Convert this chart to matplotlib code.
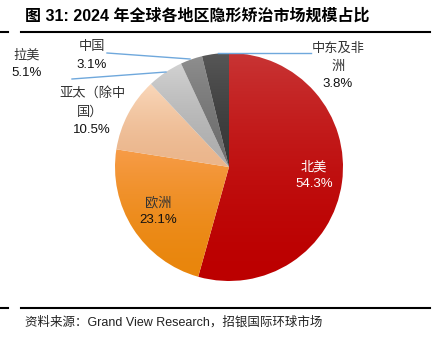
import numpy as np
import matplotlib
matplotlib.use("Agg")
import matplotlib.pyplot as plt
from matplotlib.colors import LinearSegmentedColormap

plt.rcParams["font.family"] = ["Liberation Sans", "Noto Sans CJK SC", "DejaVu Sans"]

# === Dados ===
regioes = ["北美", "欧洲", "亚太（除中\n国）", "拉美", "中国", "中东及非\n洲"]
valores = [54.3, 23.1, 10.5, 5.1, 3.1, 3.8]
cores_topo = ["#c83434", "#f79c48", "#fad8bb", "#d2d2d2", "#8e8e8e", "#575757"]
cores_base = ["#bc0000", "#e9860c", "#ebb68c", "#adadad", "#6e6e6e", "#383838"]

W, H = 433, 344
fig = plt.figure(figsize=(W / 100, H / 100), dpi=100)


def fx(x):
    return x / W


def fy(y):
    return 1 - y / H


# === Pizza ===
ax = fig.add_axes([fx(115), fy(281), 228 / W, 228 / H])
wedges, _ = ax.pie(valores, startangle=90, counterclock=False, radius=1,
                   colors=cores_base, wedgeprops=dict(linewidth=0))
ax.set_aspect("equal")
ax.axis("off")

# gradiente vertical em cada fatia (mais rapido no topo)
grad = (np.linspace(1, 0, 256) ** 1.6).reshape(-1, 1)
for w, c0, c1 in zip(wedges, cores_topo, cores_base):
    cmap = LinearSegmentedColormap.from_list("g", [c1, c0])
    bb = w.get_path().get_extents()
    img = ax.imshow(grad, cmap=cmap, extent=[-1, 1, bb.y0, bb.y1],
                    aspect="auto", origin="upper", zorder=w.get_zorder() + 0.1,
                    vmin=0, vmax=1)
    img.set_clip_path(w)
    w.set_facecolor("none")
ax.set_xlim(-1, 1)
ax.set_ylim(-1, 1)

# === Rótulos ===
fs = 9.5
cz = "#333333"
rotulos = [
    (314, 167, "北美", "white"), (314, 184, f"{valores[0]}%", "white"),
    (158, 203, "欧洲", cz), (158, 220, f"{valores[1]}%", "#111111"),
    (92, 93, "亚太（除中", cz), (90, 112, "国）", cz), (92, 130, f"{valores[2]}%", "#111111"),
    (27, 55, "拉美", cz), (27, 73, f"{valores[3]}%", "#111111"),
    (92, 47, "中国", cz), (92, 65, f"{valores[4]}%", "#111111"),
    (338, 49, "中东及非", cz), (338, 67, "洲", cz), (338, 84, f"{valores[5]}%", "#111111"),
]
for x, y, t, c in rotulos:
    fig.text(fx(x), fy(y), t, color=c, fontsize=fs, ha="center", va="center")

# linhas de chamada
azul = "#6fa8dc"
for (x0, y0, x1, y1) in [(107, 53, 190, 59), (72, 79, 166, 72), (218, 53, 311, 53)]:
    fig.add_artist(plt.Line2D([fx(x0), fx(x1)], [fy(y0), fy(y1)], color=azul, lw=1))

# === Título e moldura ===
fig.text(fx(25), fy(16), "图 31: 2024 年全球各地区隐形矫治市场规模占比",
         fontsize=11.5, fontweight="bold", ha="left", va="center", color="black")
for y in (32, 308):
    fig.add_artist(plt.Line2D([fx(0), fx(8)], [fy(y), fy(y)], color="black", lw=1.5))
    fig.add_artist(plt.Line2D([fx(21), fx(430)], [fy(y), fy(y)], color="black", lw=1.5))

fig.text(fx(25), fy(322), "资料来源：Grand View Research，招银国际环球市场",
         fontsize=9, ha="left", va="center", color="#222222")

fig.savefig("out.png", dpi=100)
